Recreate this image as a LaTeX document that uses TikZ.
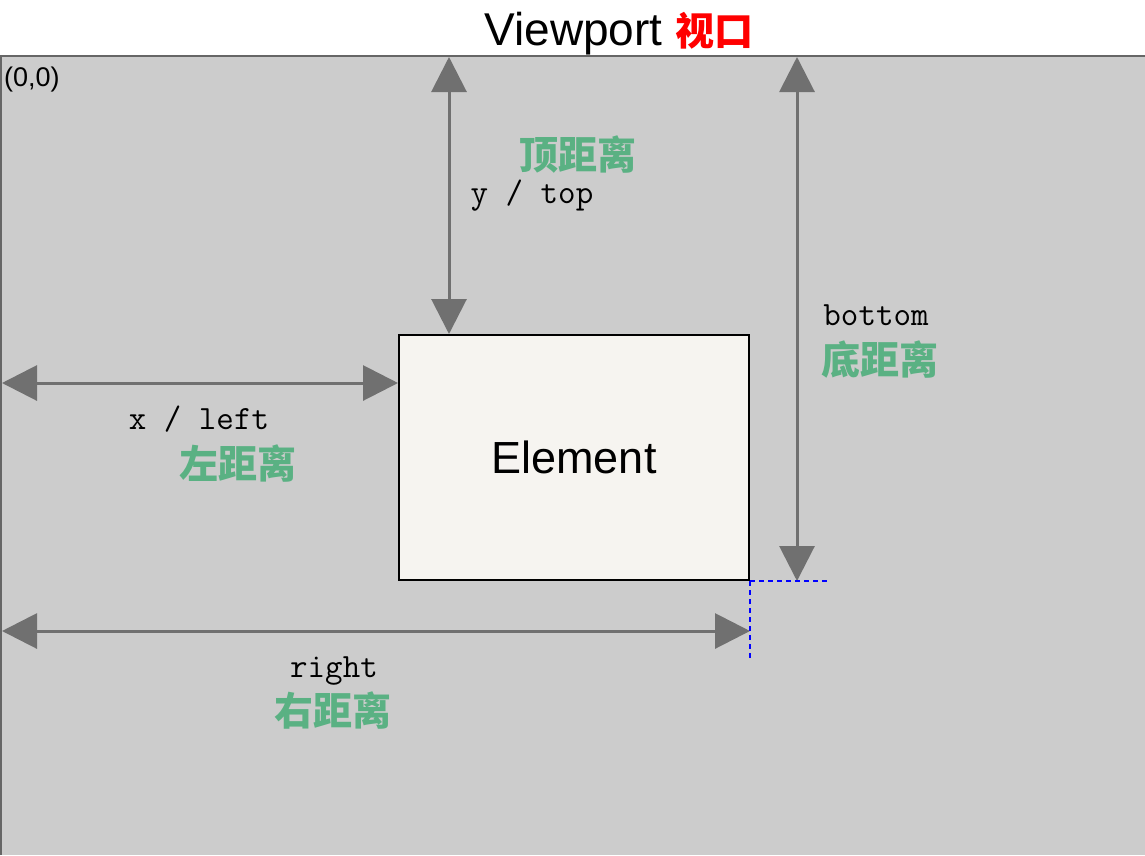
\documentclass[tikz,border=0pt]{standalone}
\usepackage{fontspec}
\setmainfont{Liberation Sans}
\newfontfamily\cjk{Noto Sans CJK SC}
\usetikzlibrary{arrows.meta,positioning}
\definecolor{vpgray}{HTML}{CCCCCC}
\definecolor{edgegray}{HTML}{666666}
\definecolor{arrowgray}{HTML}{707070}
\definecolor{elfill}{HTML}{F6F4F0}
\definecolor{labelgreen}{HTML}{5AB183}
\tikzset{
  dist/.style={arrowgray, line width=3pt,
    {Triangle[length=35pt,width=35pt]}-{Triangle[length=35pt,width=35pt]}},
  code/.style={anchor=base, inner sep=0pt, font=\ttfamily\fontsize{34}{34}\selectfont},
  zh/.style={inner sep=0pt, text=labelgreen, font=\cjk\bfseries\fontsize{39}{39}\selectfont},
  guide/.style={blue, line width=2.5pt, dash pattern=on 5pt off 4pt},
}

\begin{document}
\begin{tikzpicture}[x=1pt,y=-1pt]
\useasboundingbox (0,0) rectangle (1145,855);
\fill[white] (0,0) rectangle (1145,56);
\fill[vpgray] (0,56) rectangle (1145,855);
\draw[edgegray, line width=1.5pt] (1,855) -- (1,56) -- (1145,56);

\node[anchor=base] (title) at (619,45)
  {\fontsize{46}{46}\selectfont Viewport \textcolor{red}{\cjk\bfseries\fontsize{39}{39}\selectfont 视口}};
\node[anchor=north west, inner sep=0pt, font=\fontsize{27}{27}\selectfont] (origin) at (4,67) {(0,0)};

\node[draw=black, line width=2pt, fill=elfill, minimum width=350pt, minimum height=245pt,
  font=\fontsize{45}{45}\selectfont] (el) at (574,457.5) {Element};

\coordinate (topA) at (449,57);
\coordinate (botA) at (797,57);
\coordinate (leftA) at (2,383);
\coordinate (rightA) at (2,631);

\draw[dist] (topA) -- (topA |- el.north);
\draw[dist] (botA) -- (botA |- el.south);
\draw[dist] (leftA) -- (leftA -| el.west);
\draw[dist] (rightA) -- (rightA -| el.east);

\draw[guide] (el.south east) -- ++(80,0);
\draw[guide] (el.south east) -- ++(0,80);

\node[zh] (topzh) at (578,155) {顶距离};
\node[code] (topcode) at (532,203) {y / top};
\node[code] (leftcode) at (199,429) {x / left};
\node[zh] (leftzh) at (238,463) {左距离};
\node[code] (botcode) at (876,325) {bottom};
\node[zh] (botzh) at (880,359) {底距离};
\node[code] (rightcode) at (334,677) {right};
\node[zh] (rightzh) at (333,710) {右距离};
\end{tikzpicture}
\end{document}
